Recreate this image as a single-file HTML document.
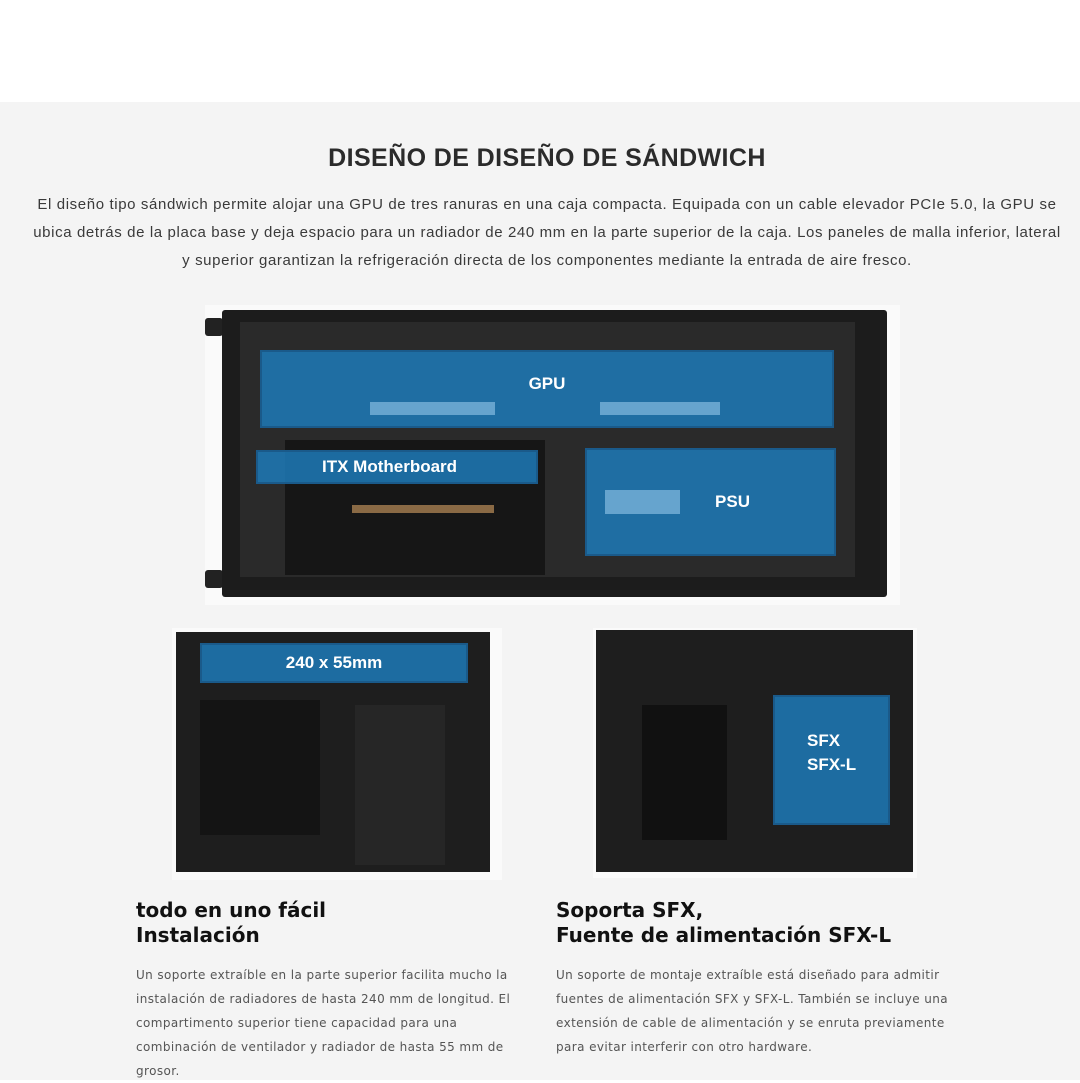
<!DOCTYPE html>
<html><head><meta charset="utf-8"><style>
*{margin:0;padding:0;box-sizing:border-box}
body{width:1080px;height:1080px;background:#fff;font-family:"Liberation Sans",sans-serif;position:relative;overflow:hidden}
.bg{position:absolute;left:0;top:102px;width:1080px;height:978px;background:#f4f4f4}
.a{position:absolute}
h1{position:absolute;left:0;width:1094px;top:144px;text-align:center;font-size:25px;font-weight:bold;color:#2b2b2b;letter-spacing:0.4px}
.p{position:absolute;left:0;width:1094px;top:191px;text-align:center;font-size:15px;line-height:28px;color:#3a3a3a;letter-spacing:0.62px}
.blue{position:absolute;background:rgba(30,120,180,0.88);border:2px solid #1a5a8a;color:#fff;font-weight:bold;display:flex;align-items:center;justify-content:center;font-size:17px}
.h{position:absolute;font-family:"DejaVu Sans",sans-serif;font-size:20px;font-weight:bold;color:#111;line-height:25px}
.t{position:absolute;font-family:"DejaVu Sans",sans-serif;font-size:12px;color:#555;line-height:24px;letter-spacing:0.4px;white-space:nowrap}
.vent{position:absolute;background:rgba(150,200,235,0.6)}
</style></head><body>
<div class="bg"></div>
<h1>DISEÑO DE DISEÑO DE SÁNDWICH</h1>
<div class="p">El diseño tipo sándwich permite alojar una GPU de tres ranuras en una caja compacta. Equipada con un cable elevador PCIe 5.0, la GPU se<br>ubica detrás de la placa base y deja espacio para un radiador de 240 mm en la parte superior de la caja. Los paneles de malla inferior, lateral<br>y superior garantizan la refrigeración directa de los componentes mediante la entrada de aire fresco.</div>

<div class="a" style="left:205px;top:305px;width:695px;height:300px;background:#fafafa"></div>
<div class="a" style="left:205px;top:318px;width:18px;height:18px;background:#222;border-radius:3px"></div>
<div class="a" style="left:205px;top:570px;width:18px;height:18px;background:#222;border-radius:3px"></div>
<div class="a" style="left:222px;top:310px;width:665px;height:287px;background:#1c1c1c;border-radius:3px"></div>
<div class="a" style="left:240px;top:322px;width:615px;height:255px;background:#2a2a2a"></div>
<div class="a" style="left:285px;top:440px;width:260px;height:135px;background:#161616"></div>
<div class="a" style="left:352px;top:505px;width:142px;height:8px;background:#8a6a45"></div>
<div class="blue" style="left:260px;top:350px;width:574px;height:78px;padding-bottom:10px">GPU</div>
<div class="vent" style="left:370px;top:402px;width:125px;height:13px"></div>
<div class="vent" style="left:600px;top:402px;width:120px;height:13px"></div>
<div class="blue" style="left:256px;top:450px;width:282px;height:34px;justify-content:flex-start;padding-left:64px">ITX Motherboard</div>
<div class="blue" style="left:585px;top:448px;width:251px;height:108px;padding-left:44px">PSU</div>
<div class="vent" style="left:605px;top:490px;width:75px;height:24px"></div>

<div class="a" style="left:172px;top:628px;width:330px;height:252px;background:#fafafa"></div>
<div class="a" style="left:176px;top:632px;width:314px;height:240px;background:#1e1e1e"></div>
<div class="a" style="left:200px;top:700px;width:120px;height:135px;background:#141414"></div>
<div class="a" style="left:355px;top:705px;width:90px;height:160px;background:#262626"></div>
<div class="blue" style="left:200px;top:643px;width:268px;height:40px">240 x 55mm</div>

<div class="a" style="left:593px;top:628px;width:324px;height:250px;background:#fafafa"></div>
<div class="a" style="left:596px;top:630px;width:317px;height:242px;background:#1e1e1e"></div>
<div class="a" style="left:642px;top:705px;width:85px;height:135px;background:#111"></div>
<div class="blue" style="left:773px;top:695px;width:117px;height:130px;justify-content:flex-start;padding-left:32px;padding-bottom:14px;line-height:24px;text-align:left">SFX<br>SFX-L</div>

<div class="h" style="left:136px;top:898px">todo en uno fácil<br>Instalación</div>
<div class="t" style="left:136px;top:963px">Un soporte extraíble en la parte superior facilita mucho la<br>instalación de radiadores de hasta 240 mm de longitud. El<br>compartimento superior tiene capacidad para una<br>combinación de ventilador y radiador de hasta 55 mm de<br>grosor.</div>
<div class="h" style="left:556px;top:898px">Soporta SFX,<br>Fuente de alimentación SFX-L</div>
<div class="t" style="left:556px;top:963px">Un soporte de montaje extraíble está diseñado para admitir<br>fuentes de alimentación SFX y SFX-L. También se incluye una<br>extensión de cable de alimentación y se enruta previamente<br>para evitar interferir con otro hardware.</div>
</body></html>
